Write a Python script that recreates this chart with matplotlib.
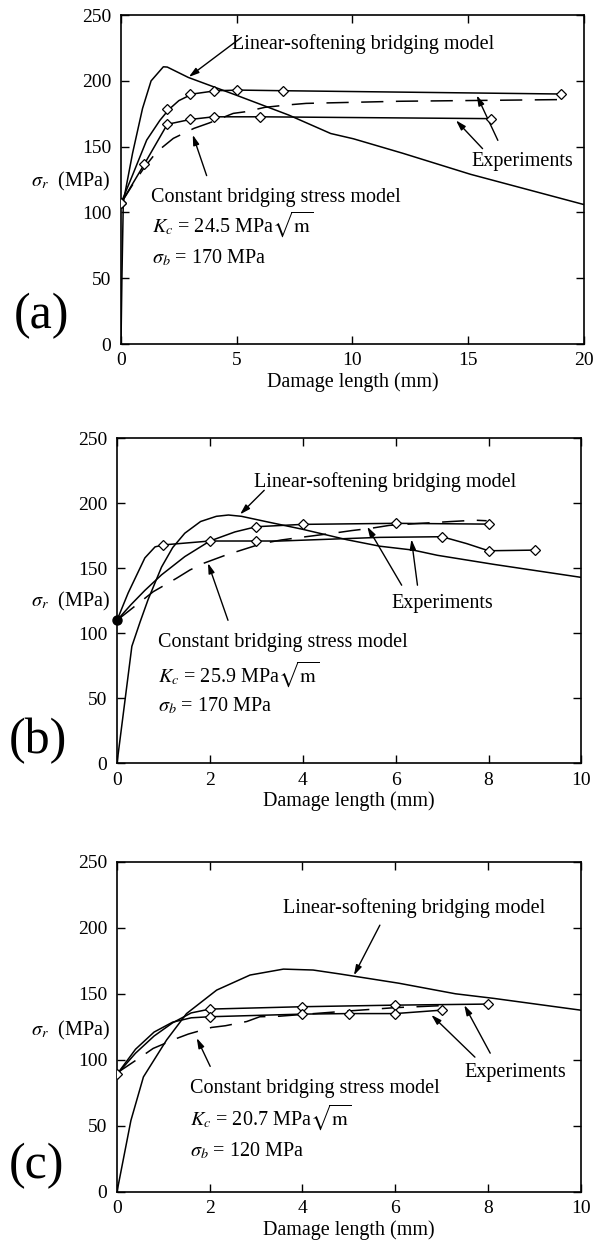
import matplotlib
matplotlib.use('Agg')
import matplotlib.pyplot as plt

plt.rcParams['font.family'] = ['Liberation Serif', 'DejaVu Serif']
plt.rcParams['mathtext.fontset'] = 'stix'
plt.rcParams['lines.scale_dashes'] = False

# ---------------- Panel (a) ----------------
a_ls_x = [0, 0.04, 0.1, 0.5, 0.93, 1.3, 1.83, 2.0, 2.91, 5.0, 7.25, 9.06, 10.04, 12.17, 15.1, 20]
a_ls_y = [0, 50, 108, 145, 179, 200, 210.7, 210.5, 202.6, 189, 174, 160, 156, 145, 129, 106]
a_exp1_line_x = [0, 0.53, 1.11, 1.68, 2.07, 2.5, 3.08, 4.09, 5.1, 7.11, 19.1]
a_exp1_line_y = [107, 129.7, 155, 170, 178.3, 185, 190, 192.5, 193, 192.5, 190]
a_exp1_pts_x = [0, 2, 3, 4, 5, 7, 19]
a_exp1_pts_y = [107, 178.3, 190, 192.5, 193, 192.5, 190]
a_exp2_x = [0, 1, 2, 3, 4, 6, 16]
a_exp2_y = [107, 136.5, 167, 170.7, 172.7, 172.7, 171.3]
a_cb_x = [0, 0.5, 1.0, 1.54, 2.26, 3.15, 3.81, 4.85, 5.36, 6.22, 7.19, 8.0, 12.0, 19.1]
a_cb_y = [107, 121, 134, 146, 156.3, 163.9, 168, 175.3, 176.5, 179.9, 181.7, 182.9, 184.5, 185.8]
a_xticks = [0, 5, 10, 15, 20]
a_kc = r'$K_c$ = 24.5 MPa$\sqrt{\mathrm{m}}$'
a_sb = r'$\sigma_b$ = 170 MPa'

# ---------------- Panel (b) ----------------
b_ls_x = [0, 0.32, 0.5, 0.67, 0.96, 1.2, 1.46, 1.8, 2.14, 2.4, 2.68, 3.2, 4.0, 4.95, 5.66, 6.38, 6.9, 8.12, 10]
b_ls_y = [0, 90, 109, 126, 151, 166, 177, 186, 190, 191, 190, 186, 180, 172, 167, 164, 160, 153, 143]
b_exp1_line_x = [0, 0.3, 0.6, 0.96, 1.46, 2.0, 2.54, 3.0, 4.0, 6.0, 8.0]
b_exp1_line_y = [110, 122, 133, 145, 159, 171, 178, 182, 183.8, 184.6, 184]
b_exp1_pts_x = [3, 4, 6, 8]
b_exp1_pts_y = [182, 183.8, 184.6, 184]
b_exp2_line_x = [0, 0.24, 0.6, 0.82, 1.0, 2.0, 3.0, 3.51, 5.66, 7.0, 7.53, 8.0, 9.0]
b_exp2_line_y = [110, 131, 158, 166.5, 168, 171, 171, 171, 173.8, 174.3, 169, 163.5, 164]
b_exp2_pts_x = [1, 2, 3, 7, 8, 9]
b_exp2_pts_y = [168, 171, 171, 174.3, 163.5, 164]
b_cb_x = [0, 0.78, 1.28, 1.57, 1.86, 2.33, 2.68, 3.12, 3.54, 4.0, 4.66, 5.05, 5.47, 5.86, 6.5, 7.2, 7.71, 7.96]
b_cb_y = [110, 132, 142.3, 148.7, 153.8, 160, 164, 169, 171.8, 174, 177, 179, 180.8, 183, 184.5, 186, 187, 186.6]
b_xticks = [0, 2, 4, 6, 8, 10]
b_kc = r'$K_c$ = 25.9 MPa$\sqrt{\mathrm{m}}$'
b_sb = r'$\sigma_b$ = 170 MPa'

# ---------------- Panel (c) ----------------
c_ls_x = [0, 0.3, 0.57, 1.07, 1.5, 2.15, 2.87, 3.59, 4.23, 4.81, 6.08, 7.3, 8.13, 10]
c_ls_y = [0, 54, 87, 115, 135, 152.8, 164.2, 168.7, 168, 165, 158, 150, 146.5, 137.6]
c_exp1_line_x = [0, 0.4, 0.8, 1.2, 1.6, 2, 4, 6, 8]
c_exp1_line_y = [89, 105, 118, 128, 135.5, 138.4, 140.2, 141.4, 142.2]
c_exp1_pts_x = [0, 2, 4, 6, 8]
c_exp1_pts_y = [89, 138.4, 140.2, 141.4, 142.2]
c_exp2_line_x = [0, 0.4, 0.8, 1.2, 1.6, 2, 4, 5, 6, 7]
c_exp2_line_y = [89, 108, 121, 128.5, 131.8, 132.6, 134.6, 135, 135, 137.6]
c_exp2_pts_x = [2, 4, 5, 6, 7]
c_exp2_pts_y = [132.6, 134.6, 135, 135, 137.6]
c_cb_x = [0, 0.5, 0.78, 1.29, 1.54, 2.04, 2.34, 2.8, 3.08, 3.5, 5.0, 6.0, 7.0]
c_cb_y = [90, 101.8, 108.6, 116.2, 119.5, 124.5, 125.8, 129, 132.6, 133, 137, 139.5, 141]
c_xticks = [0, 2, 4, 6, 8, 10]
c_kc = r'$K_c$ = 20.7 MPa$\sqrt{\mathrm{m}}$'
c_sb = r'$\sigma_b$ = 120 MPa'

yticks = [0, 50, 100, 150, 200, 250]
LS_LABEL = 'Linear-softening bridging model'
CB_LABEL = 'Constant bridging stress model'
EXP_LABEL = 'Experiments'
XLABEL = 'Damage length (mm)'
YLABEL = r'$\sigma_r$  (MPa)'

FS = 14.5
LW = 1.1
MK = dict(marker='D', ms=5, mfc='white', mec='black', mew=0.9, ls='none', zorder=4)


def setup(ax, xmax, xticks):
    ax.set_xlim(0, xmax)
    ax.set_ylim(0, 250)
    ax.set_xticks(xticks)
    ax.set_yticks(yticks)
    ax.tick_params(direction='in', top=True, right=True, length=6, width=1,
                   labelsize=14, pad=6)
    ax.tick_params(axis='y', pad=7)
    for s in ax.spines.values():
        s.set_linewidth(1.2)
    ax.set_xlabel(XLABEL, fontsize=FS, labelpad=2)


def arrow(ax, tail, tip):
    ax.annotate('', xy=tip, xytext=tail,
                arrowprops=dict(arrowstyle='-|>,head_length=0.6,head_width=0.18',
                                lw=1.0, color='black', shrinkA=0, shrinkB=0))


fig = plt.figure(figsize=(5.96, 12.47), dpi=100)

# ---- (a)
ax = fig.add_axes([0.2030, 0.7241, 0.7768, 0.2638])
setup(ax, 20, a_xticks)
ax.plot(a_ls_x, a_ls_y, 'k-', lw=LW)
ax.plot(a_exp1_line_x, a_exp1_line_y, 'k-', lw=LW)
ax.plot(a_exp1_pts_x, a_exp1_pts_y, **MK)
ax.plot(a_exp2_x, a_exp2_y, 'k-', lw=LW)
ax.plot(a_exp2_x, a_exp2_y, **MK)
ax.plot(a_cb_x, a_cb_y, 'k-', lw=LW, dashes=(16, 9))
ax.text(4.79, 224, LS_LABEL, fontsize=FS)
ax.text(1.3, 108, CB_LABEL, fontsize=FS)
ax.text(1.35, 85.3, a_kc, fontsize=FS)
ax.text(1.35, 61.3, a_sb, fontsize=FS)
ax.text(15.13, 135.3, EXP_LABEL, fontsize=FS)
arrow(ax, (5.2, 233), (2.93, 203))
arrow(ax, (3.7, 128), (3.1, 159))
arrow(ax, (15.62, 148.5), (14.47, 170))
arrow(ax, (16.28, 154.8), (15.37, 189))
ax.text(-0.024, 123.3, YLABEL, fontsize=FS, ha='right', va='center',
        transform=ax.get_yaxis_transform())
fig.text(14 / 596, 0.7468, '(a)', fontsize=36, va='center')

# ---- (b)
ax = fig.add_axes([0.1963, 0.3879, 0.7792, 0.2606])
setup(ax, 10, b_xticks)
ax.plot(b_ls_x, b_ls_y, 'k-', lw=LW)
ax.plot(b_exp1_line_x, b_exp1_line_y, 'k-', lw=LW)
ax.plot(b_exp1_pts_x, b_exp1_pts_y, **MK)
ax.plot(b_exp2_line_x, b_exp2_line_y, 'k-', lw=LW)
ax.plot(b_exp2_pts_x, b_exp2_pts_y, **MK)
ax.plot(b_cb_x, b_cb_y, 'k-', lw=LW, dashes=(16, 9))
ax.plot([b_exp1_line_x[0]], [b_exp1_line_y[0]], 'ko', ms=6.5, zorder=5, clip_on=False)
ax.text(2.95, 212.8, LS_LABEL, fontsize=FS)
ax.text(0.88, 89.7, CB_LABEL, fontsize=FS)
ax.text(0.88, 62.8, b_kc, fontsize=FS)
ax.text(0.88, 39.7, b_sb, fontsize=FS)
ax.text(5.91, 119.2, EXP_LABEL, fontsize=FS)
arrow(ax, (3.17, 210), (2.65, 191.5))
arrow(ax, (2.39, 110), (1.96, 154))
arrow(ax, (6.13, 137), (5.39, 182))
arrow(ax, (6.47, 137), (6.34, 172.3))
ax.text(-0.015, 124.4, YLABEL, fontsize=FS, ha='right', va='center',
        transform=ax.get_yaxis_transform())
fig.text(9 / 596, 0.406, '(b)', fontsize=36, va='center')

# ---- (c)
ax = fig.add_axes([0.1963, 0.0443, 0.7779, 0.2646])
setup(ax, 10, c_xticks)
ax.plot(c_ls_x, c_ls_y, 'k-', lw=LW)
ax.plot(c_exp1_line_x, c_exp1_line_y, 'k-', lw=LW)
ax.plot(c_exp1_pts_x, c_exp1_pts_y, **MK)
ax.plot(c_exp2_line_x, c_exp2_line_y, 'k-', lw=LW)
ax.plot(c_exp2_pts_x, c_exp2_pts_y, **MK)
ax.plot(c_cb_x, c_cb_y, 'k-', lw=LW, dashes=(16, 9))
ax.text(3.58, 210.9, LS_LABEL, fontsize=FS)
ax.text(1.57, 74.5, CB_LABEL, fontsize=FS)
ax.text(1.57, 50.5, c_kc, fontsize=FS)
ax.text(1.57, 26.5, c_sb, fontsize=FS)
ax.text(7.49, 87.1, EXP_LABEL, fontsize=FS)
arrow(ax, (5.67, 202), (5.11, 164))
arrow(ax, (2.01, 95), (1.72, 116.5))
arrow(ax, (7.72, 102), (6.78, 134))
arrow(ax, (8.05, 105), (7.49, 141.4))
ax.text(-0.015, 122.5, YLABEL, fontsize=FS, ha='right', va='center',
        transform=ax.get_yaxis_transform())
fig.text(9 / 596, 0.0652, '(c)', fontsize=36, va='center')

fig.savefig('out.png', dpi=100)
